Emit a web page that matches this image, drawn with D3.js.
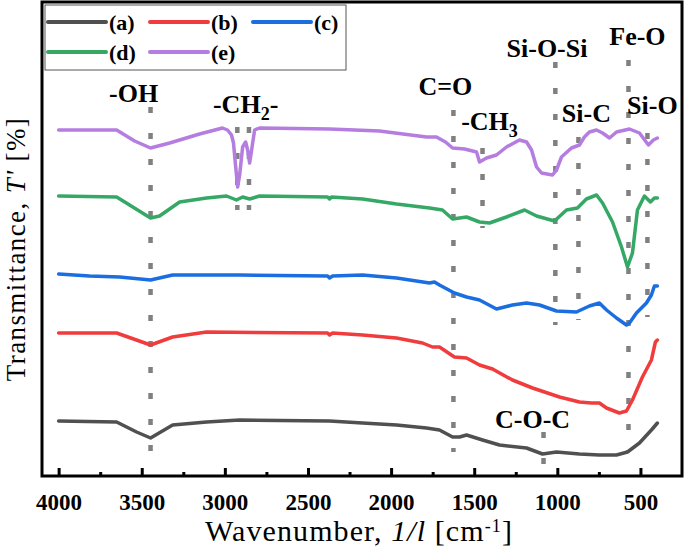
<!DOCTYPE html>
<html>
<head>
<meta charset="utf-8">
<script src="https://cdn.jsdelivr.net/npm/d3@7"></script>
<style>
  html, body { margin: 0; padding: 0; background: #fff; }
  svg { display: block; }
</style>
</head>
<body>
<svg id="chart" width="685" height="547"></svg>
<script>
// ---------------- DATA ----------------
const seriesNames = ["(a)", "(b)", "(c)", "(d)", "(e)"];
const seriesColors = ["#505050", "#f03c3c", "#1a6ee0", "#36a866", "#b47ddf"];

// [wavenumber (cm-1), transmittance (a.u., offset)]
const seriesA = [[4000,13.75],[3651,13.5],[3531,11],[3447,9.5],[3314,12.75],[3110,13.5],[2911,14],[2370,13.75],[2172,13.25],[1967,12.75],[1787,12],[1709,11.5],[1630,9.75],[1588,9.75],[1546,10.25],[1450,9],[1348,7.75],[1185,7],[1089,5.5],[1005,6],[867,5.5],[747,5.25],[644,5.25],[578,6],[506,8.25],[434,11.5],[398,13.25]];
const seriesB = [[4000,35.75],[3651,35.75],[3447,32.75],[3314,34.75],[3110,36],[2382,35.75],[2370,35.25],[2352,35.75],[2172,35.25],[1967,34.5],[1811,33.25],[1751,32.25],[1709,32.25],[1619,29.75],[1546,29.5],[1468,27.75],[1390,26.75],[1270,24],[1149,22],[987,19.75],[867,18.5],[795,18.25],[747,18.25],[704,17],[627,15.75],[584,16.25],[548,19],[488,24.75],[434,29],[410,33.5],[398,34]];
const seriesC = [[4000,50.5],[3814,50],[3633,49.75],[3447,49],[3314,50.25],[2911,50.25],[2382,50],[2370,49.5],[2352,50],[2172,50.25],[1967,49.5],[1769,48.25],[1739,48.5],[1709,47.75],[1619,45.75],[1546,44.75],[1468,44],[1366,41.75],[1270,42.75],[1185,43.25],[1107,42.75],[1005,41.25],[885,41],[807,42.5],[747,43.25],[704,41.5],[644,39.5],[584,37.75],[566,38.25],[524,40.75],[464,43.25],[434,45.25],[416,47.5],[398,47.5]];
const seriesD = [[4000,70],[3651,69.75],[3447,64.5],[3393,65],[3272,68.5],[3110,69.5],[2990,70],[2960,69.5],[2930,69],[2893,69.75],[2851,69.25],[2791,70],[2382,69.75],[2370,69.25],[2358,69.75],[2172,69.25],[1967,68],[1769,67],[1691,66.5],[1630,64.25],[1546,64.75],[1468,63.5],[1408,63.25],[1306,64.75],[1197,66.5],[1125,65],[1017,63.75],[945,66.5],[879,67],[825,69.25],[764,70.25],[728,68.25],[668,63.5],[614,57.25],[578,52.25],[548,55.75],[518,66.5],[476,70],[440,68.5],[416,69.5],[398,69.5]];
const seriesE = [[4000,86.5],[3651,86.5],[3543,83.75],[3447,82],[3332,83.25],[3152,85.5],[3014,87],[2984,86.5],[2960,85.25],[2948,83.25],[2936,77.75],[2923,72.25],[2911,75.25],[2893,82.25],[2875,83.5],[2863,81.5],[2851,78.25],[2839,81.5],[2821,86.5],[2791,87],[2370,86.75],[2070,86.25],[1787,84.75],[1727,84.75],[1673,83.5],[1630,82],[1558,81.75],[1486,81],[1468,78.5],[1426,79.5],[1366,80.25],[1306,82.25],[1228,84],[1185,83.5],[1155,81.5],[1125,77.25],[1095,75.75],[1029,75.25],[1005,76.5],[975,79.75],[915,82],[867,82.75],[837,84.75],[807,86],[764,86.5],[728,85.75],[686,84.5],[644,86],[566,86.75],[506,85.75],[452,82.75],[422,84],[398,84.5]];
const allSeries = [seriesA, seriesB, seriesC, seriesD, seriesE];

const xTicks = [4000, 3500, 3000, 2500, 2000, 1500, 1000, 500];
const xMinorTicks = [3750, 3250, 2750, 2250, 1750, 1250, 750];

// marker lines: [wavenumber, T top, T bottom]
const markerLines = [[3447,92.25,3.5],[2925,87.25,66.5],[2855,87.25,66.5],[1625,91.5,6],[1450,82,62],[1012,103.5,37.75],[873,84.75,39],[572,104,6],[458,85.75,39.75],[1083,11,2.75]];
// labels: [text, subscript, trailing, wavenumber centre, T baseline]
const markerLabels = [["-OH","","",3549,93.5],["-CH","2","-",2875,90.75],["C=O","","",1673,95.25],["-CH","3","",1408,86.5],["Si-O-Si","","",1062,104.75],["Fe-O","","",518,107.75],["Si-C","","",825,88.5],["Si-O","","",428,90.5],["C-O-C","","",1149,12]];

// ---------------- CHART ----------------
const svg = d3.select("#chart");
const L = 42, R = 682, T = 2, B = 476;
const x = d3.scaleLinear().domain([4100, 250]).range([L, R]);
const y = d3.scaleLinear().domain([0, 118.5]).range([B, T]);
const serif = "'Liberation Serif', 'Times New Roman', serif";

// marker dashed lines
svg.append("g").selectAll("line").data(markerLines).join("line")
  .attr("x1", d => x(d[0])).attr("x2", d => x(d[0]))
  .attr("y1", d => y(d[1])).attr("y2", d => y(d[2]))
  .attr("stroke", "#808080").attr("stroke-width", 4.5)
  .attr("stroke-dasharray", "6 20");

// curves
const line = d3.line().x(d => x(d[0])).y(d => y(d[1]));
svg.append("g").selectAll("path").data(allSeries).join("path")
  .attr("d", line)
  .attr("fill", "none")
  .attr("stroke", (d, i) => seriesColors[i])
  .attr("stroke-width", 3.5)
  .attr("stroke-linejoin", "round")
  .attr("stroke-linecap", "round");

// marker labels
const lab = svg.append("g").selectAll("text").data(markerLabels).join("text")
  .attr("x", d => x(d[3])).attr("y", d => y(d[4]))
  .attr("text-anchor", "middle")
  .attr("font-family", serif).attr("font-weight", "bold").attr("font-size", 26)
  .attr("fill", "#000");
lab.each(function(d) {
  const t = d3.select(this);
  t.append("tspan").text(d[0]);
  if (d[1]) t.append("tspan").attr("dy", 7).attr("font-size", 18).text(d[1]);
  if (d[2]) t.append("tspan").attr("dy", -7).text(d[2]);
});

// frame
svg.append("rect").attr("x", L).attr("y", T).attr("width", R - L).attr("height", B - T)
  .attr("fill", "none").attr("stroke", "#000").attr("stroke-width", 3);

// bottom axis (ticks inward)
const xAxis = d3.axisBottom(x).tickValues(xTicks).tickSize(-8).tickPadding(18).tickFormat(d3.format("d"));
const gx = svg.append("g").attr("transform", `translate(0,${B})`).call(xAxis);
gx.select(".domain").remove();
gx.selectAll(".tick line").attr("stroke", "#000").attr("stroke-width", 3);
gx.selectAll(".tick text").attr("font-family", serif).attr("font-weight", "bold")
  .attr("font-size", 23).attr("fill", "#000");
const xMinor = d3.axisBottom(x).tickValues(xMinorTicks).tickSize(-4).tickFormat("");
const gxm = svg.append("g").attr("transform", `translate(0,${B})`).call(xMinor);
gxm.select(".domain").remove();
gxm.selectAll(".tick line").attr("stroke", "#000").attr("stroke-width", 3);

// axis titles
const xt = svg.append("text").attr("x", 359).attr("y", 541).attr("text-anchor", "middle")
  .attr("font-family", serif).attr("font-size", 30).attr("letter-spacing", 1.1).attr("fill", "#000");
xt.append("tspan").text("Wavenumber, ");
xt.append("tspan").attr("font-style", "italic").text("1/l");
xt.append("tspan").text(" [cm");
xt.append("tspan").attr("dy", -9).attr("font-size", 18).text("-1");
xt.append("tspan").attr("dy", 9).text("]");

const yt = svg.append("text").attr("transform", "translate(25,249) rotate(-90)")
  .attr("text-anchor", "middle").attr("font-family", serif).attr("font-size", 27)
  .attr("letter-spacing", 1.4).attr("fill", "#000");
yt.append("tspan").text("Transmittance, ");
yt.append("tspan").attr("font-style", "italic").text("T'");
yt.append("tspan").text(" [%]");

// legend
const lg = svg.append("g");
lg.append("rect").attr("x", 45).attr("y", 5).attr("width", 301).attr("height", 65)
  .attr("fill", "#fff").attr("stroke", "#555").attr("stroke-width", 1);
const legendPos = [[48,22],[150,22],[253,22],[48,52],[150,52]];
const le = lg.selectAll("g.item").data(seriesNames).join("g").attr("class", "item")
  .attr("transform", (d, i) => `translate(${legendPos[i][0]},${legendPos[i][1]})`);
le.append("line").attr("x1", 0).attr("x2", 58).attr("y1", 0).attr("y2", 0)
  .attr("stroke", (d, i) => seriesColors[i]).attr("stroke-width", 4).attr("stroke-linecap", "round");
le.append("text").attr("x", 61).attr("y", 8).text(d => d)
  .attr("font-family", serif).attr("font-weight", "bold").attr("font-size", 22).attr("fill", "#000");
</script>
</body>
</html>
